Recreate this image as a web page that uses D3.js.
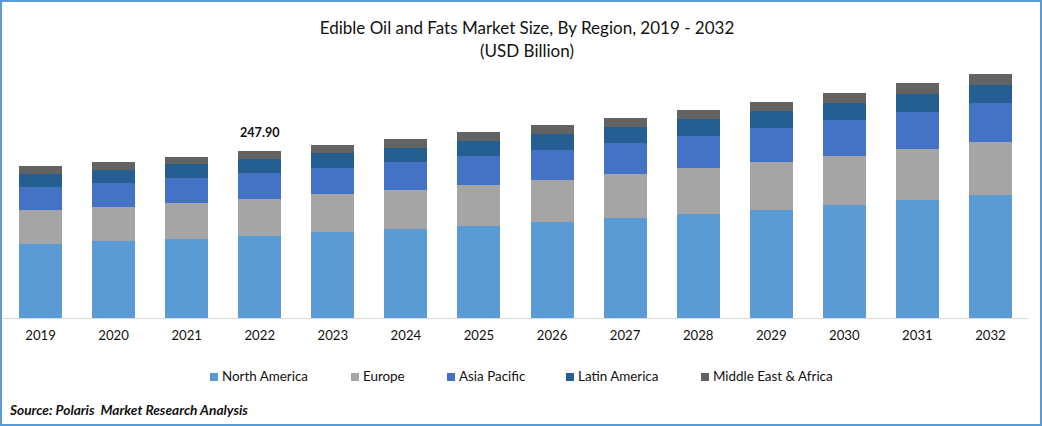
<!DOCTYPE html>
<html>
<head>
<meta charset="utf-8">
<script src="https://cdn.jsdelivr.net/npm/d3@7"></script>
<style>
	html, body { margin: 0; padding: 0; background: #fff; }
	svg { display: block; font-family: Lato, sans-serif; }
</style>
</head>
<body>
<svg id="chart" width="1042" height="426"></svg>
<script>
const years = ["2019", "2020", "2021", "2022", "2023", "2024", "2025", "2026", "2027", "2028", "2029", "2030", "2031", "2032"];
const regions = ["North America", "Europe", "Asia Pacific", "Latin America", "Middle East & Africa"];
const colors = ["#5b9bd5", "#a5a5a5", "#4472c4", "#255e91", "#636363"];

const northAmerica = [109.8, 114.3, 117.3, 121.6, 127.7, 132.1, 136.6, 142.5, 148.4, 154.4, 160.3, 167.7, 175.2, 182.6];
const europe = [50.5, 50.5, 53.4, 54.9, 56.4, 57.9, 60.9, 62.3, 65.3, 68.3, 71.3, 72.7, 75.7, 78.7];
const asiaPacific = [34.1, 35.6, 37.1, 38.6, 38.6, 41.6, 43.0, 44.5, 46.0, 47.5, 50.5, 53.4, 54.9, 57.9];
const latinAmerica = [19.3, 19.3, 20.8, 20.8, 22.3, 20.8, 22.3, 23.8, 23.8, 25.2, 25.2, 25.2, 26.7, 26.7];
const middleEast = [11.9, 11.9, 10.4, 11.9, 11.9, 13.4, 13.4, 13.4, 13.4, 13.4, 13.4, 14.8, 16.3, 16.3];
const seriesValues = [northAmerica, europe, asiaPacific, latinAmerica, middleEast];

const labelYear = "2022";
const labelText = "247.90";

const svg = d3.select("#chart");
const width = 1042;
const height = 426;
const baseline = 318;

// table for d3.stack
const rows = years.map((year, i) => {
	const row = { year };
	regions.forEach((r, j) => (row[r] = seriesValues[j][i]));
	return row;
});
const stacked = d3.stack().keys(regions)(rows);

const x = d3.scaleBand().domain(years).range([4, 1027]).paddingInner(30 / 73).paddingOuter(15 / 73);
const y = d3.scaleLinear().domain([0, 300]).range([baseline, baseline - 300 * (167 / 247.9)]);

// bars
svg
	.append("g")
	.selectAll("g")
	.data(stacked)
	.join("g")
	.attr("fill", (d, i) => colors[i])
	.selectAll("rect")
	.data((d) => d)
	.join("rect")
	.attr("x", (d) => x(d.data.year))
	.attr("width", x.bandwidth())
	.attr("y", (d) => y(d[1]))
	.attr("height", (d) => y(d[0]) - y(d[1]))
	.attr("shape-rendering", "crispEdges");

// x axis
const axis = svg
	.append("g")
	.attr("transform", `translate(0,${baseline})`)
	.call(d3.axisBottom(x).tickSize(0).tickPadding(13));
axis.select(".domain").attr("stroke", "#d9d9d9").attr("stroke-width", 1).attr("d", "M3,0.5H1028");
axis.selectAll("text").attr("font-family", "Lato, sans-serif").attr("font-size", 13.2).attr("fill", "#111");

// label over 2022
const labelIndex = years.indexOf(labelYear);
svg
	.append("text")
	.attr("x", x(labelYear) + x.bandwidth() / 2)
	.attr("y", y(d3.sum(seriesValues, (s) => s[labelIndex])) - 14)
	.attr("text-anchor", "middle")
	.attr("font-size", 12.6)
	.attr("font-weight", 700)
	.attr("fill", "#111")
	.text(labelText);

// title
svg
	.append("text")
	.attr("x", 527)
	.attr("y", 34)
	.attr("text-anchor", "middle")
	.attr("font-size", 17)
	.attr("fill", "#111")
	.text("Edible Oil and Fats Market Size, By Region, 2019 - 2032");
svg
	.append("text")
	.attr("x", 527)
	.attr("y", 57)
	.attr("text-anchor", "middle")
	.attr("font-size", 17)
	.attr("fill", "#111")
	.text("(USD Billion)");

// legend
const legendX = [210, 351, 447, 566, 701];
const legend = svg
	.append("g")
	.selectAll("g")
	.data(regions)
	.join("g")
	.attr("transform", (d, i) => `translate(${legendX[i]},373)`);
legend
	.append("rect")
	.attr("width", 8)
	.attr("height", 8)
	.attr("fill", (d, i) => colors[i]);
legend
	.append("text")
	.attr("x", 12)
	.attr("y", 8)
	.attr("font-size", 13.4)
	.attr("fill", "#111")
	.text((d) => d);

// source
svg
	.append("text")
	.attr("x", 10)
	.attr("y", 415)
	.attr("font-size", 13.7)
	.attr("font-weight", 700)
	.attr("font-style", "italic")
	.attr("fill", "#111")
	.attr("xml:space", "preserve")
	.text("Source: Polaris  Market Research Analysis");

// frame
svg
	.append("rect")
	.attr("x", 1)
	.attr("y", 1)
	.attr("width", width - 2)
	.attr("height", height - 2)
	.attr("fill", "none")
	.attr("stroke", "#5b9bd5")
	.attr("stroke-width", 2);
</script>
</body>
</html>
